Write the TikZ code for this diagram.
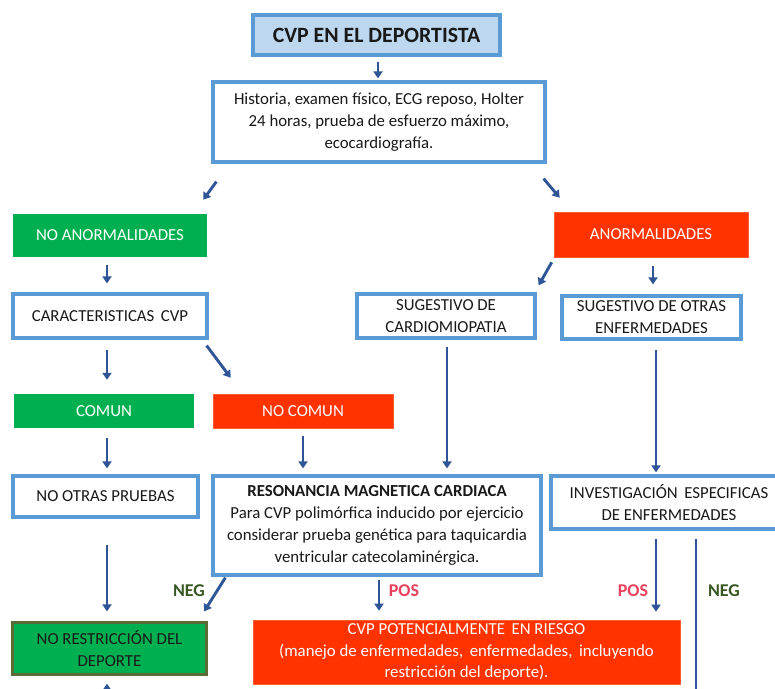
\documentclass[tikz,border=0pt]{standalone}
\usepackage{fontspec}
\setmainfont{Carlito}
\usetikzlibrary{arrows.meta,calc}

\definecolor{boxblue}{HTML}{5B9BD5}
\definecolor{titlefill}{HTML}{BDD7EE}
\definecolor{arrowblue}{HTML}{2F5597}
\definecolor{okgreen}{HTML}{00B050}
\definecolor{riskred}{HTML}{FF3300}
\definecolor{olive}{HTML}{5A6B35}
\definecolor{neggreen}{HTML}{385723}
\definecolor{posred}{HTML}{E8425E}

\tikzset{
  base/.style={rectangle, align=center, inner sep=2pt,
    font=\fontsize{16.8}{21.8}\selectfont, text=black!90},
  whitebox/.style={base, draw=boxblue, line width=3.2pt, fill=white},
  titlebox/.style={base, draw=boxblue, line width=3.4pt, fill=titlefill,
    font=\fontsize{21.8}{24}\selectfont\bfseries},
  greenbox/.style={base, fill=okgreen, text=white},
  redbox/.style={base, fill=riskred, draw=riskred!80!white, line width=0.6pt, text=white},
  finalgreen/.style={base, fill=okgreen, draw=olive, line width=2.2pt},
  arr/.style={draw=arrowblue, line width=2.9pt,
    -{Triangle[length=7pt,width=9pt]}},
  lbl/.style={font=\fontsize{18}{20}\selectfont\bfseries},
}

\begin{document}
\begin{tikzpicture}[x=1pt,y=-1pt]
  \clip (0,0) rectangle (775,688);
  \fill[white] (0,0) rectangle (775,688);

  % boxes
  \node[titlebox, minimum width=247pt, minimum height=40pt] (title) at (376.5,35) {CVP EN EL DEPORTISTA};
  \node[whitebox, minimum width=332pt, minimum height=80pt] (exams) at (379,122)
    {Historia, examen físico, ECG reposo, Holter\\24 horas, prueba de esfuerzo máximo,\\ecocardiografía.};

  \node[greenbox, minimum width=194pt, minimum height=43pt] (noanor) at (110,235.5) {NO ANORMALIDADES};
  \node[redbox, minimum width=194pt, minimum height=45pt] (anor) at (651,234.5) {ANORMALIDADES};

  \node[whitebox, minimum width=194pt, minimum height=44pt] (caract) at (110,316) {CARACTERISTICAS\, CVP};
  \node[whitebox, minimum width=178pt, minimum height=44pt] (sugcard) at (446,316) {SUGESTIVO DE\\CARDIOMIOPATIA};
  \node[whitebox, minimum width=179pt, minimum height=43pt] (sugotras) at (651.5,317.5) {SUGESTIVO DE OTRAS\\ENFERMEDADES};

  \node[greenbox, minimum width=180pt, minimum height=34pt] (comun) at (104,411) {COMUN};
  \node[redbox, minimum width=180pt, minimum height=34pt] (nocomun) at (303,411) {NO COMUN};

  \node[whitebox, minimum width=185pt, minimum height=41pt] (nootras) at (105.5,496.5) {NO OTRAS PRUEBAS};
  \node[whitebox, minimum width=328pt, minimum height=99pt] (reson) at (377,525.5)
    {\textbf{RESONANCIA MAGNETICA CARDIACA}\\Para CVP polimórfica inducido por ejercicio\\considerar prueba genética para taquicardia\\ventricular catecolaminérgica.};
  \node[whitebox, minimum width=236pt, minimum height=53pt] (invest) at (669,502.5)
    {INVESTIGACIÓN\, ESPECIFICAS\\DE ENFERMEDADES};

  \node[finalgreen, minimum width=194pt, minimum height=52pt] (norestr) at (109.5,648.5) {NO RESTRICCIÓN DEL\\DEPORTE};
  \node[redbox, minimum width=427pt, minimum height=64pt] (cvppot) at (466.5,652)
    {CVP POTENCIALMENTE\, EN RIESGO\\(manejo de enfermedades,\, enfermedades,\, incluyendo\\restricción del deporte).};

  % connectors
  \draw[arr] ($(title.south)+(1.5,5)$) -- ($(exams.north)+(-1,-2)$);
  \draw[arr] ($(exams.south west)+(5,18)$) -- ($(noanor.north east)+(-4,-14)$);
  \draw[arr] ($(exams.south east)+(-3,15)$) -- ($(anor.north west)+(6,-14)$);

  \draw[arr] ($(noanor.south)+(-3,8)$) -- ($(caract.north)+(-3,-9)$);
  \draw[arr] ($(anor.south west)+(-2,5)$) -- ($(sugcard.north east)+(2,-7)$);
  \draw[arr] ($(anor.south)+(2,9)$) -- ($(sugotras.north)+(1.5,-10)$);

  \draw[arr] ($(caract.south)+(-3,10)$) -- ($(comun.north -| caract.south)+(-3,-14)$);
  \draw[arr] ($(caract.south east)+(-2,6)$) -- ($(nocomun.north west)+(18,-16)$);
  \draw[arr] ($(sugcard.south)+(1,7)$) -- ($(reson.north -| sugcard.south)+(1,-6)$);
  \draw[arr] ($(sugotras.south)+(4.5,9)$) -- ($(invest.north -| sugotras.south)+(4.5,-2)$);

  \draw[arr] ($(comun.south)+(3,10)$) -- ($(nootras.north)+(1.5,-6)$);
  \draw[arr] ($(nocomun.south)+(0,8)$) -- ($(reson.north -| nocomun.south)+(0,-6)$);

  \draw[arr] ($(nootras.south)+(1.5,26)$) -- ($(norestr.north)+(-2.5,-10)$);
  \draw[arr] ($(reson.south west)+(14,1)$) -- ($(norestr.north east)+(-3.5,-10)$);
  \draw[arr] ($(reson.south)+(2,3)$) -- ($(cvppot.north -| reson.south)+(2,-9)$);
  \draw[arr] ($(invest.south)+(-13,8)$) -- ($(cvppot.north -| invest.south)+(-13,-8)$);
  \draw[arr] ($(invest.south)+(27,8)$) |- ($(norestr.south)+(-2.5,40)$) -- ($(norestr.south)+(-2.5,8)$);

  % branch labels
  \node[lbl, text=neggreen] (neg1) at (189,591) {NEG};
  \node[lbl, text=posred] (pos1) at (404,591) {POS};
  \node[lbl, text=posred] (pos2) at (633,591) {POS};
  \node[lbl, text=neggreen] (neg2) at (724,591) {NEG};
\end{tikzpicture}
\end{document}
